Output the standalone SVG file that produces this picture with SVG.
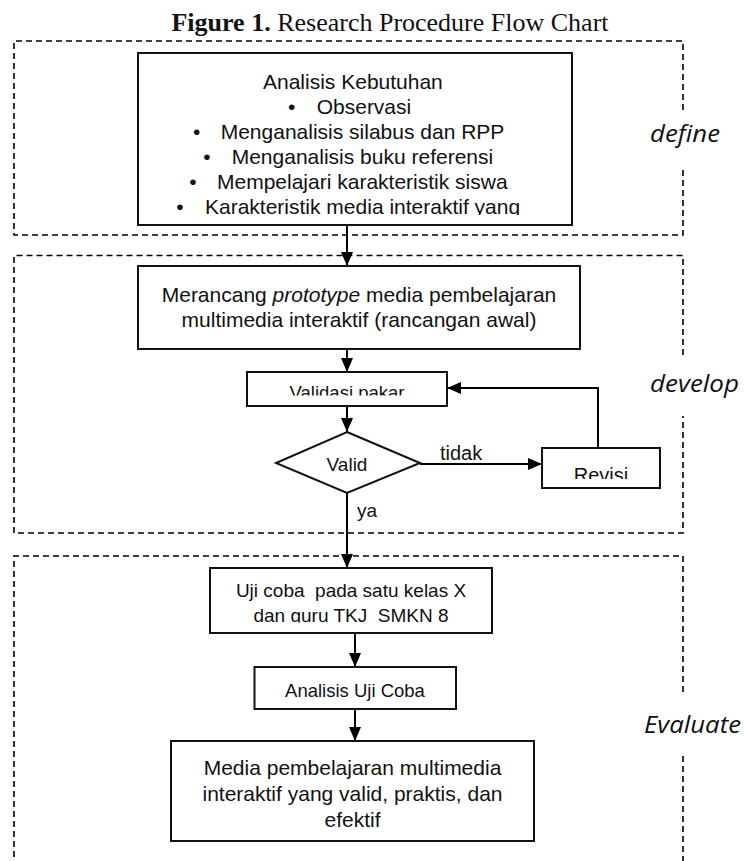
<svg xmlns="http://www.w3.org/2000/svg" width="745" height="861" viewBox="0 0 745 861">
<style>
.dash{fill:none;stroke:#000;stroke-width:1.6;stroke-dasharray:6 4}
.box{fill:#fff;stroke:#111;stroke-width:2}
.t{font-family:"Liberation Sans",Arial,sans-serif;fill:#111}
.lab{font-family:"Open Sans","Liberation Sans",sans-serif;font-style:italic;font-size:24px;fill:#111}
.con{fill:none;stroke:#000;stroke-width:2}
</style>
<defs>
<marker id="ah" markerUnits="userSpaceOnUse" markerWidth="14" markerHeight="12" refX="14" refY="6" orient="auto">
<path d="M0,0 L14,6 L0,12 z" fill="#000"/>
</marker>
<clipPath id="c1"><rect x="138" y="53" width="434" height="162"/></clipPath>
<clipPath id="c2"><rect x="247" y="372" width="200" height="23.5"/></clipPath>
<clipPath id="c3"><rect x="542" y="448" width="118" height="31"/></clipPath>
<clipPath id="c4"><rect x="210" y="568" width="282" height="54.5"/></clipPath>
</defs>

<text x="390" y="31" text-anchor="middle" font-family="'Liberation Serif','Times New Roman',serif" font-size="26" fill="#111"><tspan font-weight="bold">Figure 1.</tspan> Research Procedure Flow Chart</text>

<g id="phases">
<path class="dash" d="M683,110 V41 H14 V235 H683 V170"/>
<path class="dash" d="M683,355 V255.5 H14 V533 H683 V416"/>
<path class="dash" d="M683,692 V556 H14 V861 M683,756 V861"/>
<text class="lab" x="650" y="142" textLength="70" lengthAdjust="spacingAndGlyphs">define</text>
<text class="lab" x="650" y="392" textLength="89" lengthAdjust="spacingAndGlyphs">develop</text>
<text class="lab" x="644" y="733" textLength="97" lengthAdjust="spacingAndGlyphs">Evaluate</text>
</g>

<g id="connectors">
<path class="con" d="M347,225 V266" marker-end="url(#ah)"/>
<path class="con" d="M347,349 V372" marker-end="url(#ah)"/>
<path class="con" d="M347,406 V432" marker-end="url(#ah)"/>
<path class="con" d="M420,464 H542" marker-end="url(#ah)"/>
<path class="con" d="M598,448 V388 H447" marker-end="url(#ah)"/>
<path class="con" d="M347,493 V568" marker-end="url(#ah)"/>
<path class="con" d="M355,633 V667" marker-end="url(#ah)"/>
<path class="con" d="M355,709 V741" marker-end="url(#ah)"/>
<text class="t" x="440" y="460" font-size="20">tidak</text>
<text class="t" x="357" y="517" font-size="19">ya</text>
</g>

<g id="analisis-kebutuhan">
<rect class="box" x="138" y="53" width="434" height="172"/>
<g clip-path="url(#c1)" class="t" font-size="21">
<text x="263" y="89">Analisis Kebutuhan</text>
<text x="291.7" y="114" text-anchor="middle">•</text><text x="316.7" y="114">Observasi</text>
<text x="196.7" y="139" text-anchor="middle">•</text><text x="220.7" y="139">Menganalisis silabus dan RPP</text>
<text x="207" y="164" text-anchor="middle">•</text><text x="231.7" y="164">Menganalisis buku referensi</text>
<text x="193" y="189" text-anchor="middle">•</text><text x="217" y="189">Mempelajari karakteristik siswa</text>
<text x="180" y="214" text-anchor="middle">•</text><text x="205" y="214">Karakteristik media interaktif yang</text>
</g>
</g>

<g id="merancang">
<rect class="box" x="138" y="266" width="442" height="83"/>
<text class="t" x="359" y="302" font-size="21" text-anchor="middle">Merancang <tspan font-style="italic">prototype</tspan> media pembelajaran</text>
<text class="t" x="359" y="327" font-size="21" text-anchor="middle">multimedia interaktif (rancangan awal)</text>
</g>

<g id="validasi">
<rect class="box" x="247" y="372" width="200" height="34"/>
<text class="t" x="347" y="398.5" font-size="18.5" text-anchor="middle" clip-path="url(#c2)">Validasi pakar</text>
</g>

<g id="valid">
<path class="box" d="M347,432 L420,463 L347,493 L276,463 Z"/>
<text class="t" x="347" y="470.5" font-size="19" text-anchor="middle">Valid</text>
</g>

<g id="revisi">
<rect class="box" x="542" y="448" width="118" height="40"/>
<text class="t" x="601" y="481.5" font-size="20" text-anchor="middle" clip-path="url(#c3)">Revisi</text>
</g>

<g id="uji-coba">
<rect class="box" x="210" y="568" width="282" height="65"/>
<g clip-path="url(#c4)">
<text class="t" x="351" y="596.7" font-size="19" text-anchor="middle" xml:space="preserve">Uji coba  pada satu kelas X</text>
<text class="t" x="351" y="621.7" font-size="19" text-anchor="middle" xml:space="preserve">dan guru TKJ  SMKN 8</text>
</g>
</g>

<g id="analisis-uji-coba">
<rect class="box" x="254.5" y="667" width="201.5" height="42"/>
<text class="t" x="355" y="696.7" font-size="18.5" text-anchor="middle">Analisis Uji Coba</text>
</g>

<g id="media">
<rect class="box" x="171" y="741" width="363" height="100"/>
<text class="t" x="352.5" y="775" font-size="21" text-anchor="middle">Media pembelajaran multimedia</text>
<text class="t" x="352.5" y="801" font-size="21" text-anchor="middle">interaktif yang valid, praktis, dan</text>
<text class="t" x="352.5" y="827" font-size="21" text-anchor="middle">efektif</text>
</g>
</svg>
